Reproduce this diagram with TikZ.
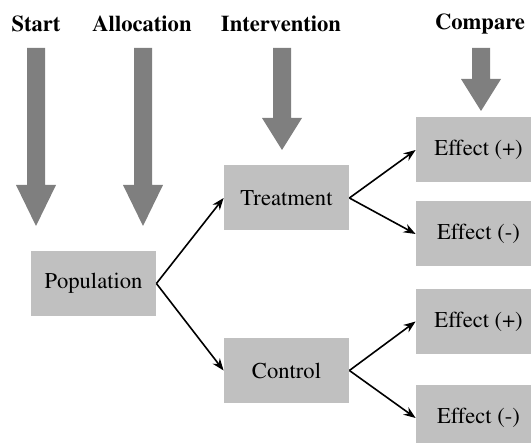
\documentclass[tikz,border=0pt]{standalone}
\usepackage[T1]{fontenc}
\usepackage{mathptmx}
\usetikzlibrary{arrows.meta}

\definecolor{boxgray}{RGB}{192,192,192}
\definecolor{arrowgray}{RGB}{127,127,127}

\tikzset{
  box/.style={fill=boxgray, minimum width=62.5pt, minimum height=32.5pt,
    font=\fontsize{11.3}{13}\selectfont},
  head/.style={font=\fontsize{11.3}{13}\selectfont\bfseries},
  link/.style={line width=0.8pt, -{Stealth[length=6pt,width=4.5pt]}},
  bigarrow/.style={fill=arrowgray}
}

\begin{document}
\begin{tikzpicture}[x=0.5pt,y=-0.5pt]
        \path[use as bounding box, clip] (0,0) rectangle (531,443);
        % column heads
        \node[head] (hstart)  at (36,24)  {Start};
        \node[head] (halloc)  at (142,24) {Allocation};
        \node[head] (hinterv) at (281,24) {Intervention};
        \node[head] (hcomp)   at (480,24) {Compare};
        % thick grey arrows, x / head start / tip
        \foreach \x/\y/\z in {36/185/226, 143/185/226, 282/118/150, 481/79/111}
          \fill[bigarrow] (\x-9,48) -- (\x+9,48) -- (\x+9,\y) -- (\x+20,\y)
            -- (\x,\z) -- (\x-20,\y) -- (\x-9,\y) -- cycle;
        % boxes
        \node[box] (pop)    at (93.5,283.5) {Population};
        \node[box] (treat)  at (286.5,198)  {Treatment};
        \node[box] (ctrl)   at (286.5,370.5) {Control};
        \node[box] (treatp) at (478.5,150)  {Effect (+)};
        \node[box] (treatm) at (478.5,234)  {Effect (-)};
        \node[box] (ctrlp)  at (478.5,321.5) {Effect (+)};
        \node[box] (ctrlm)  at (478.5,418)  {Effect (-)};
        % branches
        \draw[link] (pop.east) -- (treat.west);
        \draw[link] (pop.east) -- (ctrl.west);
        \draw[link] (treat.east) -- (treatp.west);
        \draw[link] (treat.east) -- (treatm.west);
        \draw[link] (ctrl.east) -- (ctrlp.west);
        \draw[link] (ctrl.east) -- (ctrlm.west);
\end{tikzpicture}
\end{document}
